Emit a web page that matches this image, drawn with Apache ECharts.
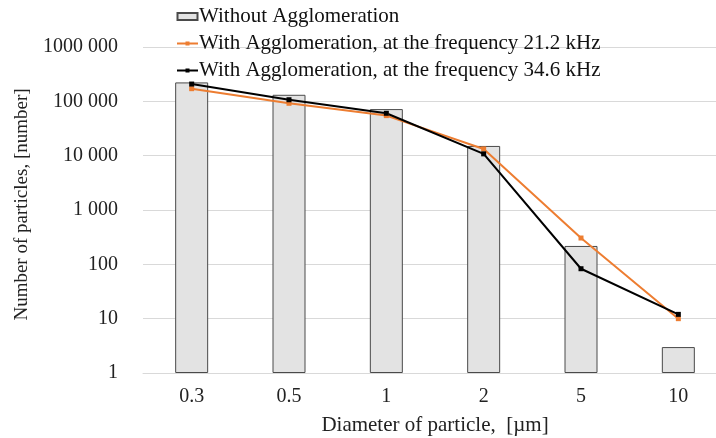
<!DOCTYPE html>
<html><head><meta charset="utf-8">
<script src="https://cdn.jsdelivr.net/npm/echarts@6/dist/echarts.min.js"></script>
<style>html,body{margin:0;padding:0;background:#fff}#c{width:716px;height:438px}</style>
</head><body><div id="c"></div>
<script>
var categories = ['0.3', '0.5', '1', '2', '5', '10'];
var withoutAgglomeration = [223000, 132000, 72000, 15100, 218, 3];
var with21_2kHz = [171000, 92000, 54600, 13300, 305, 10];
var with34_6kHz = [208000, 107000, 60300, 10800, 83, 12];
var yTickLabels = {1: '1', 10: '10', 100: '100', 1000: '1 000', 10000: '10 000', 100000: '100 000', 1000000: '1000 000'};
var seriesNames = ['Without Agglomeration', 'With Agglomeration, at the frequency 21.2 kHz', 'With Agglomeration, at the frequency 34.6 kHz'];

var font = '"Liberation Serif", "Times New Roman", serif';
var lineIcon = 'path://M0,0 M21,10 M0,4 L21,4 L21,6 L0,6 Z M8.5,3 L12.5,3 L12.5,7 L8.5,7 Z';
var barIcon = 'path://M0,0 M21,10 M0.5,1.5 L20.5,1.5 L20.5,8.5 L0.5,8.5 Z';
var chart = echarts.init(document.getElementById('c'), null, {renderer: 'canvas'});
chart.setOption({
  animation: false,
  textStyle: {fontFamily: font},
  legend: {
    orient: 'vertical', left: 171, top: 1, itemGap: 6,
    itemWidth: 21, itemHeight: 10, symbolKeepAspect: false,
    textStyle: {fontFamily: font, fontSize: 21, color: '#111', padding: [0, 0, 0, -4]},
    data: [
      {name: seriesNames[0], icon: barIcon},
      {name: seriesNames[1], icon: lineIcon},
      {name: seriesNames[2], icon: lineIcon}
    ]
  },
  grid: {left: 143, width: 584, top: 47, bottom: 65, containLabel: false, outerBoundsMode: 'none'},
  xAxis: {
    type: 'category', data: categories, boundaryGap: true,
    axisLine: {lineStyle: {color: '#d9d9d9', width: 1}},
    axisTick: {show: false},
    axisLabel: {fontFamily: font, fontSize: 20, color: '#222', margin: 14},
    name: 'Diameter of particle,  [µm]', nameLocation: 'middle', nameGap: 42,
    nameTextStyle: {fontFamily: font, fontSize: 21, color: '#222'}
  },
  yAxis: {
    type: 'log', logBase: 10, min: 1, max: 1000000,
    axisLine: {show: false}, axisTick: {show: false},
    splitLine: {lineStyle: {color: '#d9d9d9', width: 1}},
    axisLabel: {fontFamily: font, fontSize: 20, color: '#222', margin: 25,
      formatter: function (v) { return yTickLabels[Math.round(v)] || ''; }},
    name: 'Number of particles, [number]', nameLocation: 'middle', nameGap: 111,
    nameTextStyle: {fontFamily: font, fontSize: 19, color: '#222', padding: [0, 0, 0, 11]}
  },
  series: [
    {name: seriesNames[0], type: 'bar', data: withoutAgglomeration, barWidth: 33,
      itemStyle: {color: '#e3e3e3', borderColor: '#4a4a4a', borderWidth: 1}},
    {name: seriesNames[1], type: 'line', data: with21_2kHz, symbol: 'rect', symbolSize: 5,
      lineStyle: {color: '#ed7d31', width: 2}, itemStyle: {color: '#ed7d31'}},
    {name: seriesNames[2], type: 'line', data: with34_6kHz, symbol: 'rect', symbolSize: 5,
      lineStyle: {color: '#000', width: 2}, itemStyle: {color: '#000'}}
  ]
});
</script></body></html>
